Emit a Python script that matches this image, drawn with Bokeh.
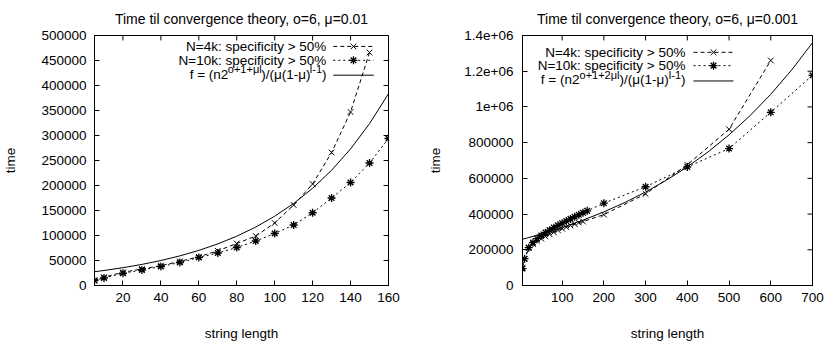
from bokeh.plotting import figure
from bokeh.layouts import row
from bokeh.models import Range1d, FixedTicker, Label, Title
from bokeh.embed import file_html
from bokeh.resources import INLINE

FONT = "Liberation Sans"
FS = 13.5
SUP = 11

# ---------------- texts ----------------
left_title = "Time til convergence theory, o=6, \u03bc=0.01"
right_title = "Time til convergence theory, o=6, \u03bc=0.001"
x_label = "string length"
y_label = "time"
legend_4k = "N=4k: specificity > 50%"
legend_10k = "N=10k: specificity > 50%"
left_formula = [("f = (n2", False), ("o+1+\u03bcl", True), (")/(\u03bc(1-\u03bc)", False), ("l-1", True), (")", False)]
right_formula = [("f = (n2", False), ("o+1+2\u03bcl", True), (")/(\u03bc(1-\u03bc)", False), ("l-1", True), (")", False)]

# ---------------- left chart (mu = 0.01) ----------------
left_xticks = [20, 40, 60, 80, 100, 120, 140, 160]
left_yticks = [0, 50000, 100000, 150000, 200000, 250000, 300000, 350000, 400000, 450000, 500000]
left_ytick_labels = ["0", "50000", "100000", "150000", "200000", "250000", "300000", "350000", "400000", "450000", "500000"]

left_x_4k = [5, 10, 20, 30, 40, 50, 60, 70, 80, 90, 100, 110, 120, 130, 140, 150]
left_y_4k = [10000, 16500, 26400, 33000, 39700, 48200, 57500, 69400, 84000, 99000, 125000, 161000, 203000, 266000, 347000, 466000]
left_x_10k = [5, 10, 20, 30, 40, 50, 60, 70, 80, 90, 100, 110, 120, 130, 140, 150, 160]
left_y_10k = [10000, 15000, 24500, 31000, 38000, 46000, 56000, 65000, 76000, 89000, 104000, 121000, 145500, 175000, 206000, 245000, 294000]
left_x_theory = [5, 10, 20, 30, 40, 50, 60, 70, 80, 90, 100, 110, 120, 130, 140, 150, 160]
left_y_theory = [27590, 30035, 35594, 42183, 49990, 59244, 70208, 83200, 98602, 116854, 138481, 164115, 194489, 230487, 273145, 323701, 383600]

# ---------------- right chart (mu = 0.001) ----------------
right_xticks = [100, 200, 300, 400, 500, 600, 700]
right_yticks = [0, 200000, 400000, 600000, 800000, 1000000, 1200000, 1400000]
right_ytick_labels = ["0", "200000", "400000", "600000", "800000", "1e+06", "1.2e+06", "1.4e+06"]

right_x_4k = [5, 10, 20, 30, 40, 50, 60, 70, 80, 90, 100, 110, 120, 130, 140, 150, 200, 300, 400, 500, 600]
right_y_4k = [100000, 148000, 209000, 232000, 250000, 262000, 275000, 287000, 298000, 309000, 318000, 327000, 336000, 344000, 352000, 358000, 397000, 513000, 676000, 875000, 1260000]
right_x_10k = [5, 10, 20, 30, 40, 50, 60, 70, 80, 90, 100, 110, 120, 130, 140, 150, 160, 200, 300, 400, 500, 600, 700]
right_y_10k = [95000, 150000, 212000, 240000, 262000, 280000, 296000, 310000, 324000, 337000, 349000, 361000, 373000, 385000, 396000, 407000, 418000, 461000, 553000, 664000, 767000, 970000, 1177000]
right_x_theory = [5, 50, 100, 150, 200, 250, 300, 350, 400, 450, 500, 550, 600, 650, 700]
right_y_theory = [258810, 288156, 324681, 365834, 412206, 464417, 523311, 589664, 664404, 748627, 843525, 950439, 1070922, 1206650, 1359440]

# approximate Arial/Liberation Sans advance widths (per 1000 em)
W = {' ': 278, 'f': 278, '=': 584, '(': 333, ')': 333, 'n': 556, '2': 556, 'o': 556,
     '+': 584, '1': 556, '\u03bc': 576, 'l': 222, '/': 278, '-': 333}


def tw(s, size):
    return sum(W.get(c, 556) for c in s) * size / 1000.0


def make_chart(width, fl, fr, ft, fb, xr, yr, xticks, yticks, ylabels, title,
               y_lab_standoff, y_tick_standoff):
    ttl = Title(text=title, align="center", text_font=FONT, text_font_size="14px",
                text_font_style="normal", text_color="black", standoff=17)
    p = figure(width=width, height=346, x_range=Range1d(*xr), y_range=Range1d(*yr),
               output_backend="svg", toolbar_location=None, title=ttl,
               min_border_left=fl, min_border_right=fr, min_border_top=ft, min_border_bottom=fb)
    p.grid.visible = False
    p.outline_line_color = "black"
    p.outline_line_alpha = 1.0
    p.background_fill_color = "white"
    p.border_fill_color = "white"
    p.xaxis.ticker = FixedTicker(ticks=xticks)
    p.yaxis.ticker = FixedTicker(ticks=yticks)
    p.yaxis.major_label_overrides = {v: s for v, s in zip(yticks, ylabels)}
    for ax in (p.xaxis[0], p.yaxis[0]):
        ax.axis_line_color = "black"
        ax.major_tick_line_color = "black"
        ax.major_tick_in = 5
        ax.major_tick_out = 0
        ax.minor_tick_line_color = None
        ax.major_label_text_font = FONT
        ax.major_label_text_color = "black"
        ax.major_label_text_font_size = f"{FS}px"
        ax.axis_label_text_font = FONT
        ax.axis_label_text_font_size = f"{FS}px"
        ax.axis_label_text_font_style = "normal"
        ax.axis_label_text_color = "black"
    p.xaxis[0].axis_label = x_label
    p.yaxis[0].axis_label = y_label
    p.xaxis[0].major_label_standoff = 7
    p.yaxis[0].major_label_standoff = y_tick_standoff
    p.xaxis[0].axis_label_standoff = 21
    p.yaxis[0].axis_label_standoff = y_lab_standoff
    geom = dict(fl=fl, ft=ft, fw=width - fl - fr, fh=346 - ft - fb, xr=xr, yr=yr)
    # mirrored inward ticks on the top and right frame edges
    dy = 5.0 / geom["fh"] * (yr[1] - yr[0])
    dx = 5.0 / geom["fw"] * (xr[1] - xr[0])
    p.segment(x0=xticks, y0=[yr[1]] * len(xticks), x1=xticks, y1=[yr[1] - dy] * len(xticks),
              line_color="black", line_width=1)
    p.segment(x0=[xr[1]] * len(yticks), y0=yticks, x1=[xr[1] - dx] * len(yticks), y1=yticks,
              line_color="black", line_width=1)
    return p, geom


def to_data(g, px, py):
    x = g["xr"][0] + (px - g["fl"]) / g["fw"] * (g["xr"][1] - g["xr"][0])
    y = g["yr"][1] - (py - g["ft"]) / g["fh"] * (g["yr"][1] - g["yr"][0])
    return x, y


def add_text(p, g, px, py, text, size=FS, align="center"):
    x, y = to_data(g, px, py)
    p.add_layout(Label(x=x, y=y, text=text, text_font=FONT, text_font_size=f"{size}px",
                       text_align=align, text_baseline="middle", text_color="black"))


def draw(p, x4, y4, x10, y10, xt, yt):
    p.line(x4, y4, line_color="black", line_width=1, line_dash="4 3")
    p.scatter(x4, y4, marker="x", size=8, line_color="black", line_width=1)
    p.line(x10, y10, line_color="black", line_width=1, line_dash="2 3")
    p.scatter(x10, y10, marker="asterisk", size=8, line_color="black", line_width=1.3)
    p.line(xt, yt, line_color="black", line_width=1)


def legend(p, g, text_right, l0, l1, rows, formula):
    # row 1
    add_text(p, g, text_right, rows[0], legend_4k, align="right")
    xa, ya = to_data(g, l0, rows[0])
    xb, _ = to_data(g, l1, rows[0])
    xm, _ = to_data(g, (l0 + l1) / 2, rows[0])
    p.line([xa, xb], [ya, ya], line_color="black", line_width=1, line_dash="4 3")
    p.scatter([xm], [ya], marker="x", size=8, line_color="black", line_width=1)
    # row 2
    add_text(p, g, text_right, rows[1], legend_10k, align="right")
    xa, ya = to_data(g, l0, rows[1])
    xb, _ = to_data(g, l1, rows[1])
    xm, _ = to_data(g, (l0 + l1) / 2, rows[1])
    p.line([xa, xb], [ya, ya], line_color="black", line_width=1, line_dash="2 3")
    p.scatter([xm], [ya], marker="asterisk", size=8, line_color="black", line_width=1.3)
    # row 3 (formula with superscripts)
    total = sum(tw(s, SUP if sup else FS) for s, sup in formula)
    cx = text_right - total
    for s, sup in formula:
        size = SUP if sup else FS
        add_text(p, g, cx, rows[2] - (5 if sup else 0), s, size=size, align="left")
        cx += tw(s, size)
    xa, ya = to_data(g, l0, rows[2] + 1)
    xb, _ = to_data(g, l1, rows[2] + 1)
    p.line([xa, xb], [ya, ya], line_color="black", line_width=1)


# ---- left figure ----
pl, gl = make_chart(415, 90, 27, 33, 61, (5, 160), (0, 500000), left_xticks, left_yticks,
                    left_ytick_labels, left_title, 20, 8)
draw(pl, left_x_4k, left_y_4k, left_x_10k, left_y_10k, left_x_theory, left_y_theory)
legend(pl, gl, 325, 332, 373, [44, 58, 72], left_formula)

# ---- right figure ----
pr, gr = make_chart(414, 107, 17, 33, 60, (5, 700), (0, 1400000), right_xticks, right_yticks,
                    right_ytick_labels, right_title, 18, 9)
draw(pr, right_x_4k, right_y_4k, right_x_10k, right_y_10k, right_x_theory, right_y_theory)
legend(pr, gr, 270, 278, 318, [50, 63.5, 78], right_formula)

layout = row(pl, pr)
open("out.html", "w").write(file_html(layout, INLINE))
